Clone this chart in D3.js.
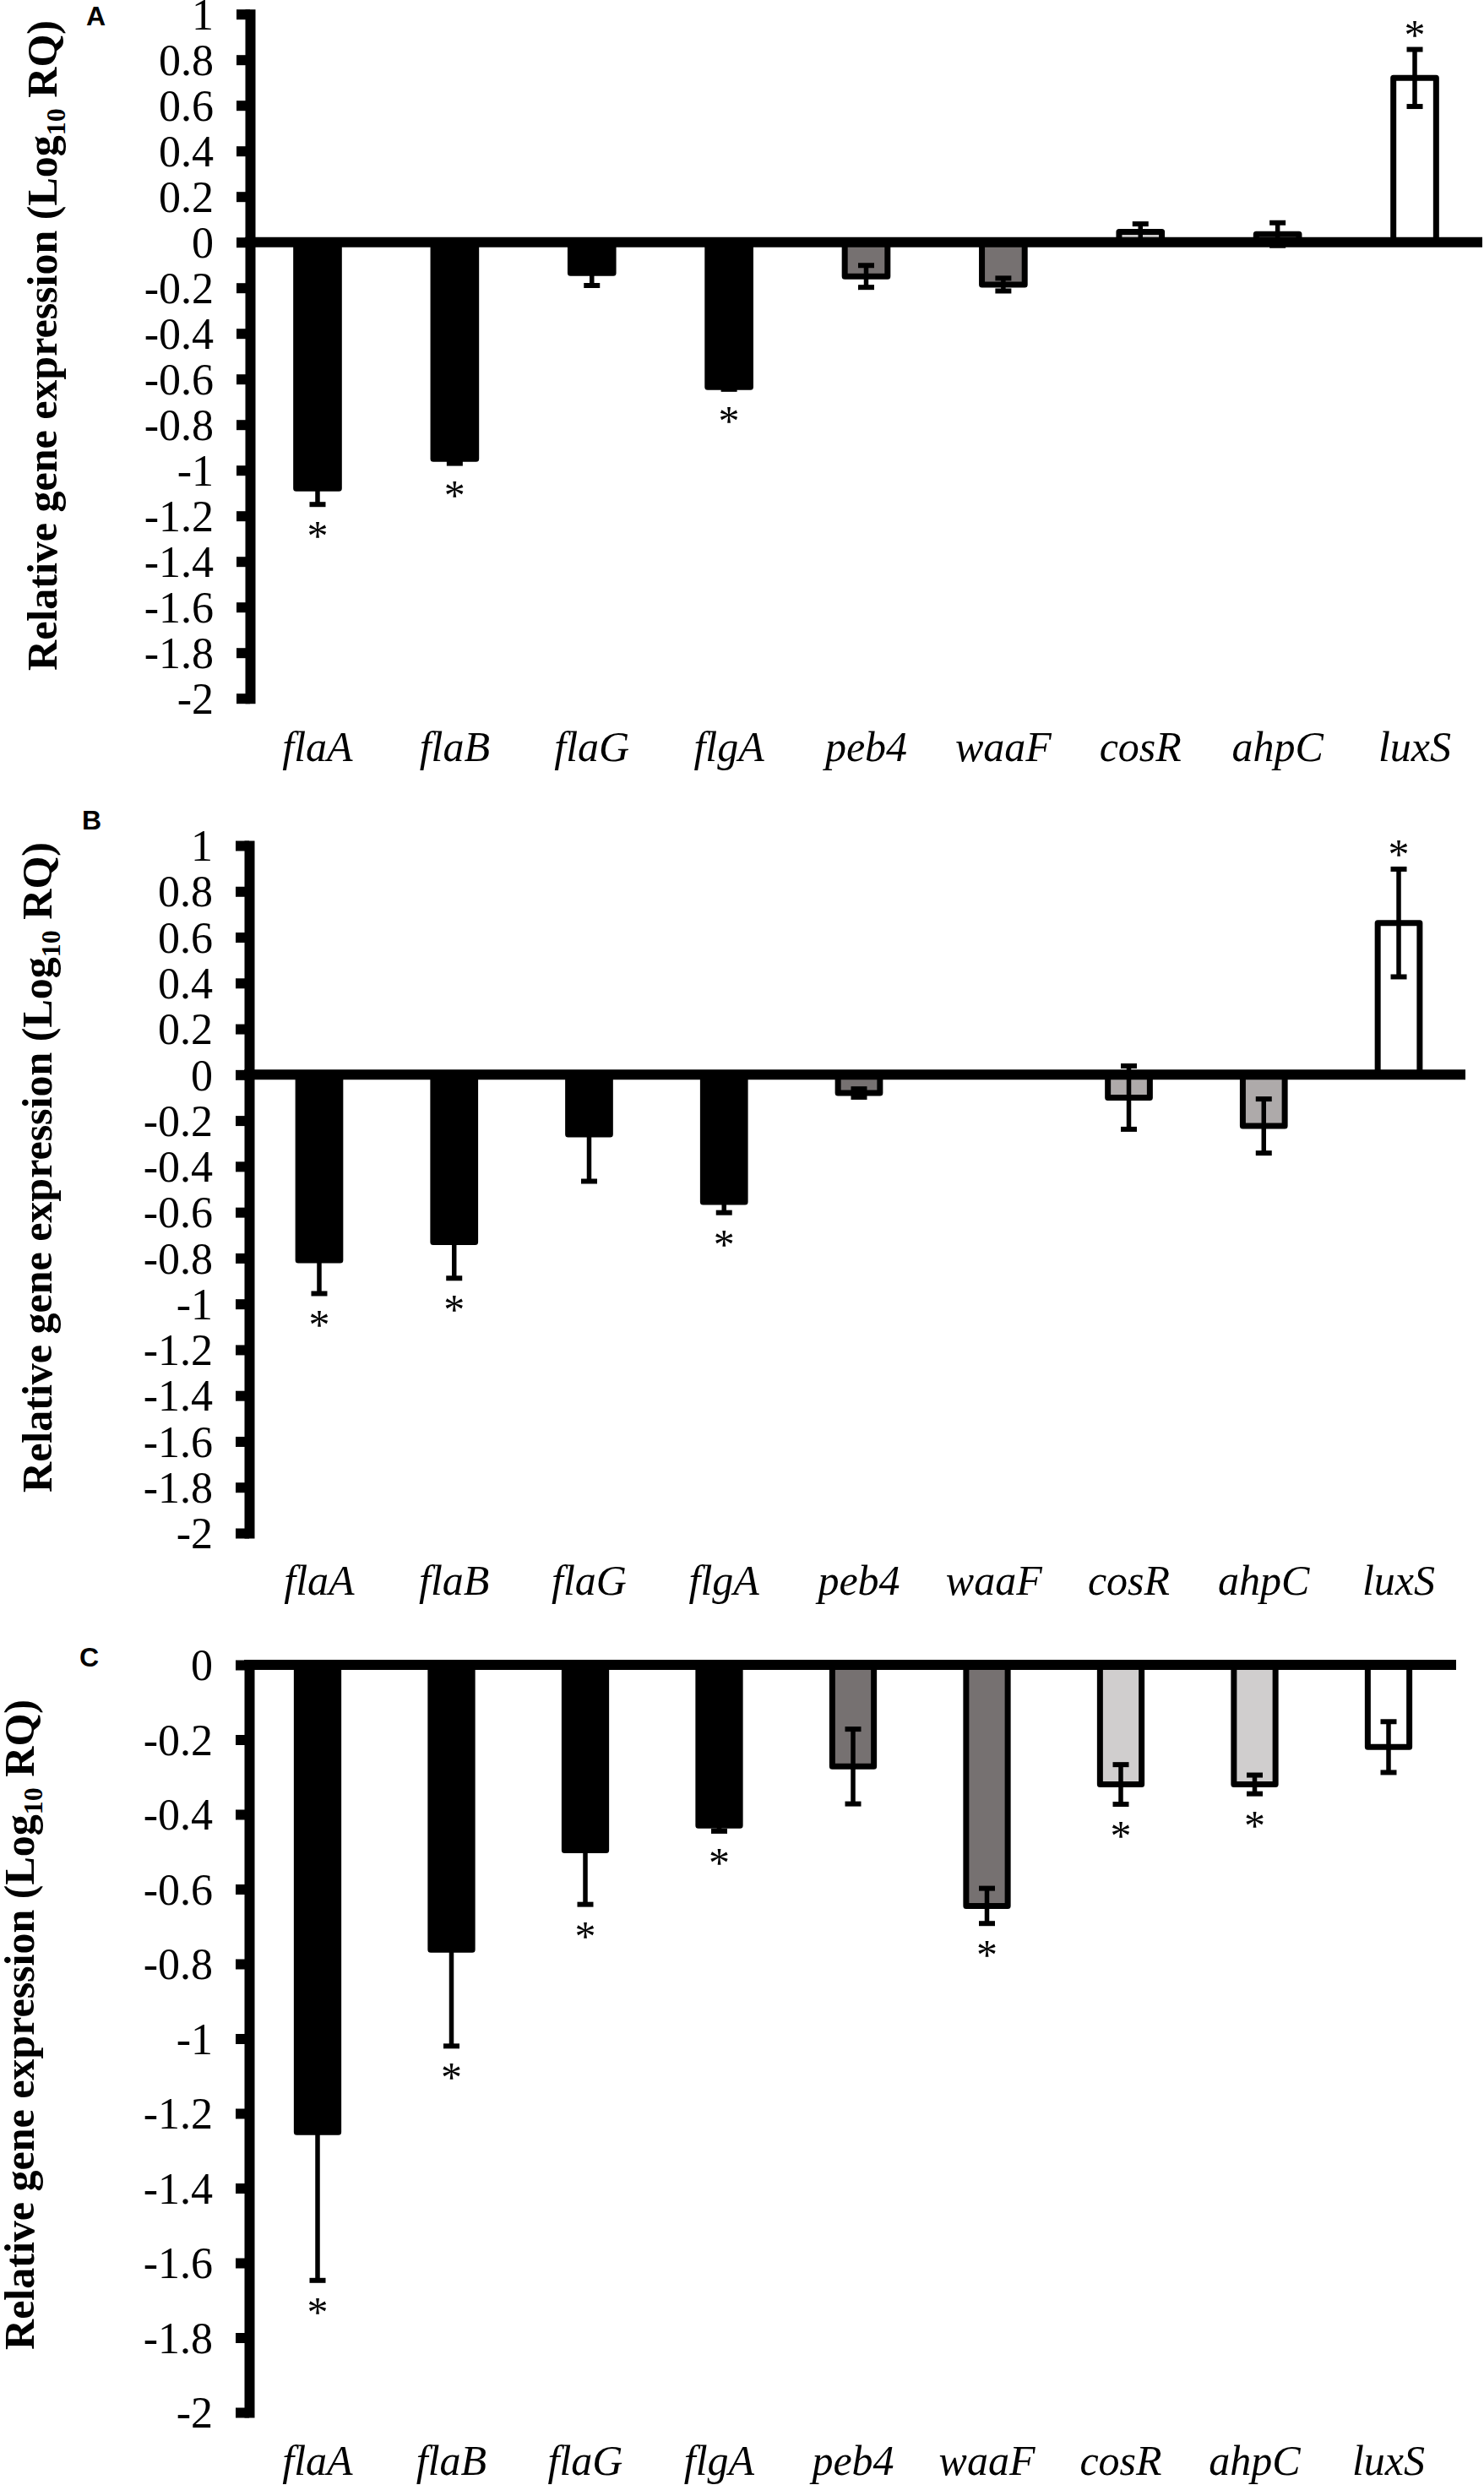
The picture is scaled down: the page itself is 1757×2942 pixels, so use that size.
<!DOCTYPE html>
<html>
<head>
<meta charset="utf-8">
<script src="https://cdn.jsdelivr.net/npm/d3@7"></script>
<style>
  body { margin: 0; background: #fff; }
  svg { display: block; }
</style>
</head>
<body>
<div id="chart"></div>
<script>
// gene names on the x axis (same for all three panels)
const genes = ["flaA", "flaB", "flaG", "flgA", "peb4", "waaF", "cosR", "ahpC", "luxS"];

// panel A
const valuesA = [-1.08, -0.95, -0.135, -0.635, -0.15, -0.186, 0.045, 0.035, 0.72];
const errorsA = [0.07, 0.02, 0.055, 0.01, 0.048, 0.028, 0.035, 0.05, 0.125];
const sigA = [1, 1, 0, 1, 0, 0, 0, 0, 1];

// panel B
const valuesB = [-0.81, -0.73, -0.26, -0.555, -0.08, 0.005, -0.1, -0.224, 0.662];
const errorsB = [0.145, 0.158, 0.205, 0.047, 0.018, 0, 0.138, 0.118, 0.235];
const sigB = [1, 1, 0, 1, 0, 0, 0, 0, 1];

// panel C
const valuesC = [-1.25, -0.762, -0.496, -0.43, -0.272, -0.645, -0.32, -0.32, -0.22];
const errorsC = [0.397, 0.258, 0.145, 0.015, 0.1, 0.047, 0.053, 0.025, 0.068];
const sigC = [1, 1, 1, 1, 0, 1, 1, 1, 0];

// y tick labels
const ticksAB = [1, 0.8, 0.6, 0.4, 0.2, 0, -0.2, -0.4, -0.6, -0.8, -1, -1.2, -1.4, -1.6, -1.8, -2];
const ticksC = [0, -0.2, -0.4, -0.6, -0.8, -1, -1.2, -1.4, -1.6, -1.8, -2];

const W = 1757, H = 2942;
const serif = "'Liberation Serif', 'Times New Roman', serif";

const svg = d3.select("#chart").append("svg")
  .attr("width", W)
  .attr("height", H);

svg.append("rect").attr("width", W).attr("height", H).attr("fill", "#fff");

function drawPanel(p) {
  const g = svg.append("g");

  const y = d3.scaleLinear().domain(p.domain).range(p.yRange);
  const x = d3.scaleBand()
    .domain(genes)
    .range(p.xRange)
    .paddingInner(0.645)
    .paddingOuter(0.3225);

  const rows = genes.map((gene, i) => ({
    gene: gene,
    v: p.values[i],
    e: p.errors[i],
    sig: p.sig[i],
    fill: p.fills[i]
  }));

  const sw = 7;
  // bars
  g.selectAll("rect.bar")
    .data(rows)
    .enter()
    .append("rect")
    .attr("class", "bar")
    .attr("x", (d) => x(d.gene) + sw / 2)
    .attr("width", x.bandwidth() - sw)
    .attr("y", (d) => Math.min(y(d.v), y(0)))
    .attr("height", (d) => Math.abs(y(d.v) - y(0)))
    .attr("fill", (d) => d.fill)
    .attr("stroke", "#000")
    .attr("stroke-width", sw)
    .attr("stroke-linejoin", "round");

  // zero line
  g.append("line")
    .attr("x1", p.axisX - 6)
    .attr("x2", p.lineEnd)
    .attr("y1", y(0))
    .attr("y2", y(0))
    .attr("stroke", "#000")
    .attr("stroke-width", 12);

  // error bars
  const eb = g.selectAll("g.err")
    .data(rows.filter((d) => d.e > 0))
    .enter()
    .append("g")
    .attr("class", "err")
    .attr("transform", (d) => `translate(${x(d.gene) + x.bandwidth() / 2},0)`);

  eb.append("line")
    .attr("y1", (d) => y(d.v - d.e))
    .attr("y2", (d) => y(d.v + d.e))
    .attr("stroke", "#000")
    .attr("stroke-width", 5.5);

  [-1, 1].forEach((s) => {
    eb.append("line")
      .attr("x1", -9.5)
      .attr("x2", 9.5)
      .attr("y1", (d) => y(d.v + s * d.e))
      .attr("y2", (d) => y(d.v + s * d.e))
      .attr("stroke", "#000")
      .attr("stroke-width", 6);
  });

  // significance asterisks
  g.selectAll("text.star")
    .data(rows.filter((d) => d.sig))
    .enter()
    .append("text")
    .attr("class", "star")
    .attr("x", (d) => x(d.gene) + x.bandwidth() / 2)
    .attr("y", (d) => d.v < 0 ? y(d.v - d.e) + 30 + 24 : y(d.v + d.e) - 25 + 24)
    .attr("text-anchor", "middle")
    .style("font-family", serif)
    .style("font-size", "50px")
    .text("*");

  // y axis
  const axis = g.append("g")
    .attr("transform", `translate(${p.axisX},0)`)
    .call(
      d3.axisLeft(y)
        .tickValues(p.ticks)
        .tickSize(16)
        .tickSizeOuter(0)
        .tickPadding(27)
        .tickFormat((d) => String(Math.round(d * 10) / 10))
    );
  axis.select(".domain")
    .attr("stroke-width", 12)
    .attr("stroke-linecap", "square");
  axis.selectAll(".tick line").attr("stroke-width", 12);
  axis.selectAll(".tick text")
    .attr("fill", "#000")
    .attr("dy", "0.34em")
    .style("font-family", serif)
    .style("font-size", "52px");

  // gene labels
  g.selectAll("text.gene")
    .data(rows)
    .enter()
    .append("text")
    .attr("class", "gene")
    .attr("x", (d) => x(d.gene) + x.bandwidth() / 2)
    .attr("y", p.labelY)
    .attr("text-anchor", "middle")
    .style("font-family", serif)
    .style("font-style", "italic")
    .style("font-size", "50px")
    .text((d) => d.gene);

  // y axis title
  const title = g.append("text")
    .attr("transform", `translate(${p.titleX},${p.titleY}) rotate(-90)`)
    .attr("text-anchor", "middle")
    .style("font-family", serif)
    .style("font-weight", "bold")
    .style("font-size", "50px");
  title.append("tspan").text("Relative gene expression (Log");
  title.append("tspan").attr("dy", 10).style("font-size", "32px").text("10");
  title.append("tspan").attr("dy", -10).text(" RQ)");

  // panel letter
  g.append("text")
    .attr("x", p.letterX)
    .attr("y", p.letterY)
    .style("font-family", "'Liberation Sans', Arial, sans-serif")
    .style("font-weight", "bold")
    .style("font-size", "32px")
    .text(p.letter);
}

const black = "#000", dark = "#767171", white = "#fff";

drawPanel({
  letter: "A", letterX: 102, letterY: 30,
  values: valuesA, errors: errorsA, sig: sigA,
  fills: [black, black, black, black, dark, dark, "#d0cece", "#d0cece", white],
  domain: [-2, 1], yRange: [826.7, 16.7], ticks: ticksAB,
  axisX: 296, xRange: [294.8, 1756.2], lineEnd: 1755,
  labelY: 901, titleX: 67, titleY: 409
});

drawPanel({
  letter: "B", letterX: 97, letterY: 982,
  values: valuesB, errors: errorsB, sig: sigB,
  fills: [black, black, black, black, dark, dark, "#aeaaaa", "#aeaaaa", white],
  domain: [-2, 1], yRange: [1815, 1001], ticks: ticksAB,
  axisX: 295, xRange: [298.1, 1735.9], lineEnd: 1735,
  labelY: 1888, titleX: 61, titleY: 1382
});

drawPanel({
  letter: "C", letterX: 94, letterY: 1973,
  values: valuesC, errors: errorsC, sig: sigC,
  fills: [black, black, black, black, dark, dark, "#d0cece", "#d0cece", white],
  domain: [-2, 0], yRange: [2856, 1971], ticks: ticksC,
  axisX: 295, xRange: [296.75, 1723.25], lineEnd: 1724,
  labelY: 2930, titleX: 40, titleY: 2397
});
</script>
</body>
</html>
